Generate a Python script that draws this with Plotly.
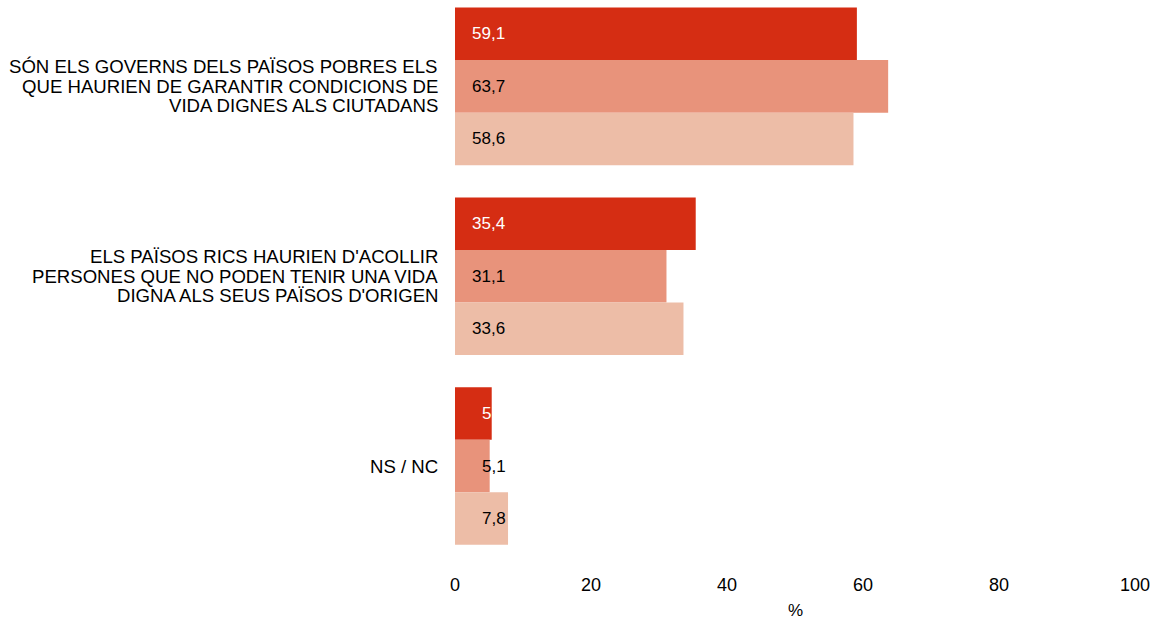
import plotly.graph_objects as go

categories = ["GOVERNS", "ACOLLIR", "NSNC"]
category_lines = [
    ["SÓN ELS GOVERNS DELS PAÏSOS POBRES ELS",
     "QUE HAURIEN DE GARANTIR CONDICIONS DE",
     "VIDA DIGNES ALS CIUTADANS"],
    ["ELS PAÏSOS RICS HAURIEN D'ACOLLIR",
     "PERSONES QUE NO PODEN TENIR UNA VIDA",
     "DIGNA ALS SEUS PAÏSOS D'ORIGEN"],
    ["NS / NC"],
]
series_a = [59.1, 35.4, 5.4]
series_b = [63.7, 31.1, 5.1]
series_c = [58.6, 33.6, 7.8]
labels_a = ["59,1", "35,4", "5"]
labels_b = ["63,7", "31,1", "5,1"]
labels_c = ["58,6", "33,6", "7,8"]
series_names = ["Sèrie 1", "Sèrie 2", "Sèrie 3"]
x_ticks = [0, 20, 40, 60, 80, 100]

colors = ["#D52D13", "#E8937B", "#EDBDA7"]
text_colors = ["white", "black", "black"]
FONT = "Liberation Sans, Arial, sans-serif"

BARGAP = 0.17
PX_PER_CAT = 190.0
bar_px = (1.0 - BARGAP) / 3 * PX_PER_CAT

fig = go.Figure()
for t, (name, vals, labs, col, tcol) in enumerate(zip(
        series_names, [series_a, series_b, series_c],
        [labels_a, labels_b, labels_c], colors, text_colors)):
    fig.add_trace(go.Bar(
        y=categories, x=vals, orientation="h", name=name,
        marker=dict(color=col, line=dict(width=0)),
        hoverinfo="x+y",
    ))
    for cat, v, lab in zip(categories, vals, labs):
        fig.add_annotation(
            x=0, y=cat, text=lab, showarrow=False,
            xanchor="left", yanchor="middle",
            xshift=15 if v > 10 else 25,
            yshift=-(t - 1) * bar_px,
            font=dict(family=FONT, size=17, color=tcol),
        )

# category labels, one annotation per line
LINE_PX = 19.5
for cat, lines in zip(categories, category_lines):
    n = len(lines)
    for i, line in enumerate(lines):
        fig.add_annotation(
            xref="paper", x=0, y=cat, text=line, showarrow=False,
            xanchor="right", yanchor="middle", xshift=-15,
            yshift=-(i - (n - 1) / 2) * LINE_PX,
            font=dict(family=FONT, size=18.6, color="black"),
        )

fig.add_annotation(
    xref="paper", yref="paper", x=0.5, y=0, text="%", showarrow=False,
    xanchor="center", yanchor="middle", yshift=-49,
    font=dict(family=FONT, size=17, color="black"),
)

fig.update_layout(
    barmode="group", bargap=BARGAP, bargroupgap=0,
    width=1153, height=620,
    margin=dict(l=455, r=18, t=0, b=58.5),
    paper_bgcolor="white", plot_bgcolor="white",
    showlegend=False,
    font=dict(family=FONT, size=18, color="black"),
    xaxis=dict(
        range=[0, 100], tickvals=x_ticks, showgrid=False, zeroline=False,
        showline=False, ticks="outside", ticklen=7, tickcolor="rgba(0,0,0,0)",
        tickfont=dict(size=18),
    ),
    yaxis=dict(
        range=[2.5, -0.455], showgrid=False, zeroline=False, showline=False,
        showticklabels=False,
    ),
)

fig.write_html("out.html", config={"displayModeBar": False},
               post_script="document.body.style.margin='0';")
